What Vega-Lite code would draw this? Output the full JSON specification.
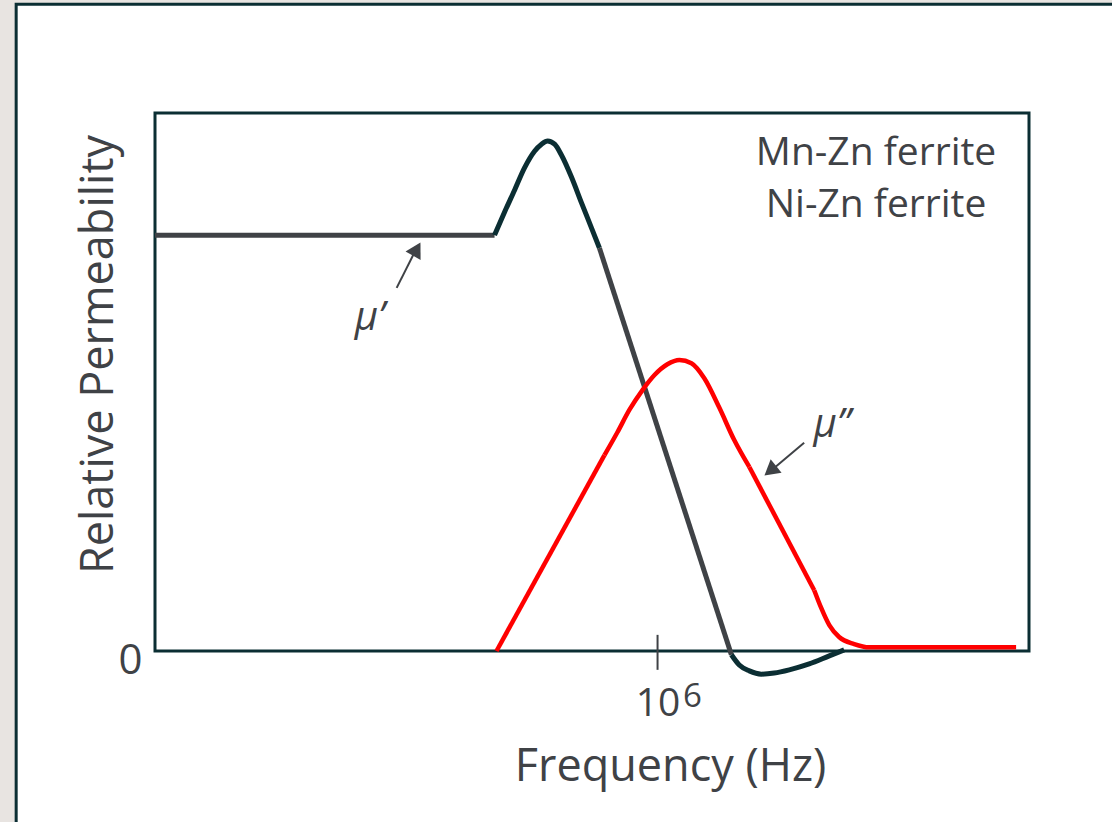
{
  "$schema": "https://vega.github.io/schema/vega-lite/v6.json",
  "width": 874,
  "height": 538,
  "autosize": {"type": "none"},
  "padding": {"left": 155, "top": 113, "right": 83, "bottom": 171},
  "background": "#e8e4e1",
  "config": {
    "view": {"stroke": null},
    "font": "Open Sans",
    "text": {"font": "Open Sans"}
  },
  "encoding": {
    "x": {
      "field": "x",
      "type": "quantitative",
      "scale": {"domain": [3.7, 7.7], "nice": false, "zero": false},
      "axis": {
        "values": [6],
        "labelExpr": "'10'",
        "domain": false,
        "ticks": false,
        "tickSize": 0,
        "grid": false,
        "labelFont": "Open Sans",
        "labelFontSize": 39,
        "labelColor": "#3f4246",
        "labelBaseline": "alphabetic",
        "labelPadding": 64,
        "labelFlush": false,
        "labelOverlap": false,
        "title": "Frequency (Hz)",
        "titleFont": "Open Sans",
        "titleFontSize": 45,
        "titleFontWeight": "normal",
        "titleColor": "#3f4246",
        "titleX": 515,
        "titleY": 129,
        "titleBaseline": "alphabetic",
        "titleAlign": "center",
        "zindex": 1
      }
    },
    "y": {
      "field": "y",
      "type": "quantitative",
      "scale": {"domain": [0, 100], "nice": false, "zero": false},
      "axis": {
        "values": [0],
        "domain": false,
        "ticks": false,
        "tickSize": 0,
        "grid": false,
        "labelFont": "Open Sans",
        "labelFontSize": 42,
        "labelColor": "#3f4246",
        "labelPadding": 13,
        "labelBaseline": "middle",
        "labelOffset": 9,
        "title": "Relative Permeability",
        "titleFont": "Open Sans",
        "titleFontSize": 45,
        "titleFontWeight": "normal",
        "titleColor": "#3f4246",
        "titleAngle": 270,
        "titleX": -43,
        "titleY": 241,
        "titleBaseline": "alphabetic",
        "titleAlign": "center",
        "zindex": 1
      }
    }
  },
  "layer": [
    {
      "data": {"values": [{"x": 3.0646, "x2": 8.3, "y": 120.2, "y2": -40}]},
      "mark": {"type": "rect", "fill": "#ffffff", "stroke": "#0b2e33", "strokeWidth": 3},
      "encoding": {"x2": {"field": "x2"}, "y2": {"field": "y2"}}
    },
    {
      "data": {"values": [{"x": 3.7, "x2": 7.7, "y": 0, "y2": 100}]},
      "mark": {"type": "rect", "fill": null, "fillOpacity": 0, "stroke": "#0b2e33", "strokeWidth": 3},
      "encoding": {"x2": {"field": "x2"}, "y2": {"field": "y2"}}
    },
    {
      "data": {"values": [{"x": 6, "y": -3.5, "y2": 3.0}]},
      "mark": {"type": "rule", "color": "#3f4246", "strokeWidth": 2},
      "encoding": {"y2": {"field": "y2"}}
    },
    {
      "data": {"values": [
        {"series": "mu1", "seg": "flat", "tone": "gray", "x": 3.7, "y": 77.3},
        {"series": "mu1", "seg": "flat", "tone": "gray", "x": 5.254, "y": 77.3},
        {"series": "mu1", "seg": "bump", "tone": "teal", "x": 5.254, "y": 77.3},
        {"series": "mu1", "seg": "bump", "tone": "teal", "x": 5.300, "y": 81.6},
        {"series": "mu1", "seg": "bump", "tone": "teal", "x": 5.346, "y": 85.7},
        {"series": "mu1", "seg": "bump", "tone": "teal", "x": 5.391, "y": 89.8},
        {"series": "mu1", "seg": "bump", "tone": "teal", "x": 5.437, "y": 92.9},
        {"series": "mu1", "seg": "bump", "tone": "teal", "x": 5.469, "y": 94.2},
        {"series": "mu1", "seg": "bump", "tone": "teal", "x": 5.497, "y": 94.8},
        {"series": "mu1", "seg": "bump", "tone": "teal", "x": 5.529, "y": 94.2},
        {"series": "mu1", "seg": "bump", "tone": "teal", "x": 5.560, "y": 92.2},
        {"series": "mu1", "seg": "bump", "tone": "teal", "x": 5.606, "y": 88.1},
        {"series": "mu1", "seg": "bump", "tone": "teal", "x": 5.652, "y": 83.3},
        {"series": "mu1", "seg": "bump", "tone": "teal", "x": 5.698, "y": 78.6},
        {"series": "mu1", "seg": "bump", "tone": "teal", "x": 5.734, "y": 74.9},
        {"series": "mu1", "seg": "steep", "tone": "gray", "x": 5.734, "y": 74.9},
        {"series": "mu1", "seg": "steep", "tone": "gray", "x": 6.338, "y": -0.7},
        {"series": "mu1", "seg": "dip", "tone": "teal", "x": 6.338, "y": -0.7},
        {"series": "mu1", "seg": "dip", "tone": "teal", "x": 6.374, "y": -2.6},
        {"series": "mu1", "seg": "dip", "tone": "teal", "x": 6.420, "y": -3.7},
        {"series": "mu1", "seg": "dip", "tone": "teal", "x": 6.475, "y": -4.3},
        {"series": "mu1", "seg": "dip", "tone": "teal", "x": 6.534, "y": -4.1},
        {"series": "mu1", "seg": "dip", "tone": "teal", "x": 6.603, "y": -3.5},
        {"series": "mu1", "seg": "dip", "tone": "teal", "x": 6.694, "y": -2.4},
        {"series": "mu1", "seg": "dip", "tone": "teal", "x": 6.786, "y": -0.9},
        {"series": "mu1", "seg": "dip", "tone": "teal", "x": 6.854, "y": 0.2}
      ]},
      "mark": {"type": "line", "strokeWidth": 5, "interpolate": "monotone"},
      "encoding": {
        "color": {"field": "tone", "type": "nominal", "scale": {"domain": ["gray", "teal", "red"], "range": ["#3f4246", "#0b2e33", "#ff0000"]}, "legend": null},
        "detail": {"field": "seg", "type": "nominal"}
      }
    },
    {
      "data": {"values": [
        {"series": "mu2", "seg": "rise", "tone": "red", "x": 5.263, "y": 0},
        {"series": "mu2", "seg": "rise", "tone": "red", "x": 5.757, "y": 36.4},
        {"series": "mu2", "seg": "peak", "tone": "red", "x": 5.757, "y": 36.4},
        {"series": "mu2", "seg": "peak", "tone": "red", "x": 5.817, "y": 40.7},
        {"series": "mu2", "seg": "peak", "tone": "red", "x": 5.871, "y": 44.8},
        {"series": "mu2", "seg": "peak", "tone": "red", "x": 5.931, "y": 48.5},
        {"series": "mu2", "seg": "peak", "tone": "red", "x": 5.986, "y": 51.3},
        {"series": "mu2", "seg": "peak", "tone": "red", "x": 6.045, "y": 53.3},
        {"series": "mu2", "seg": "peak", "tone": "red", "x": 6.100, "y": 54.1},
        {"series": "mu2", "seg": "peak", "tone": "red", "x": 6.155, "y": 53.5},
        {"series": "mu2", "seg": "peak", "tone": "red", "x": 6.214, "y": 50.7},
        {"series": "mu2", "seg": "peak", "tone": "red", "x": 6.283, "y": 45.2},
        {"series": "mu2", "seg": "peak", "tone": "red", "x": 6.351, "y": 39.2},
        {"series": "mu2", "seg": "peak", "tone": "red", "x": 6.420, "y": 34.2},
        {"series": "mu2", "seg": "fall", "tone": "red", "x": 6.420, "y": 34.2},
        {"series": "mu2", "seg": "fall", "tone": "red", "x": 6.717, "y": 11.3},
        {"series": "mu2", "seg": "tail", "tone": "red", "x": 6.717, "y": 11.3},
        {"series": "mu2", "seg": "tail", "tone": "red", "x": 6.749, "y": 8.0},
        {"series": "mu2", "seg": "tail", "tone": "red", "x": 6.786, "y": 4.8},
        {"series": "mu2", "seg": "tail", "tone": "red", "x": 6.831, "y": 2.6},
        {"series": "mu2", "seg": "tail", "tone": "red", "x": 6.900, "y": 1.3},
        {"series": "mu2", "seg": "tail", "tone": "red", "x": 6.969, "y": 0.7},
        {"series": "mu2", "seg": "tail", "tone": "red", "x": 7.641, "y": 0.7}
      ]},
      "mark": {"type": "line", "strokeWidth": 4.5, "interpolate": "monotone"},
      "encoding": {
        "color": {"field": "tone", "type": "nominal", "scale": {"domain": ["gray", "teal", "red"], "range": ["#3f4246", "#0b2e33", "#ff0000"]}, "legend": null},
        "detail": {"field": "seg", "type": "nominal"}
      }
    },
    {
      "data": {"values": [
        {"name": "mu1", "x": 4.806, "y": 67.5, "x2": 4.884, "y2": 73.8},
        {"name": "mu2", "x": 6.671, "y": 38.7, "x2": 6.539, "y2": 34.2}
      ]},
      "mark": {"type": "rule", "color": "#3f4246", "strokeWidth": 2},
      "encoding": {"x2": {"field": "x2"}, "y2": {"field": "y2"}}
    },
    {
      "data": {"values": [
        {"name": "mu1", "x": 4.898, "y": 74.7},
        {"name": "mu2", "x": 6.516, "y": 33.5}
      ]},
      "mark": {"type": "point", "shape": "triangle-up", "filled": true, "color": "#3f4246", "size": 300, "opacity": 1},
      "encoding": {
        "angle": {"field": "name", "type": "nominal", "scale": {"domain": ["mu1", "mu2"], "range": [29.5, 231]}, "legend": null}
      }
    },
    {
      "data": {"values": [
        {"label": "μ’", "x": 4.683, "y": 59.7},
        {"label": "μ”", "x": 6.799, "y": 39.8}
      ]},
      "mark": {"type": "text", "font": "Open Sans", "fontSize": 40, "fontStyle": "italic", "color": "#3f4246", "align": "center", "baseline": "alphabetic"},
      "encoding": {"text": {"field": "label"}}
    },
    {
      "data": {"values": [
        {"label": "Mn-Zn ferrite", "x": 7.0, "y": 90.33},
        {"label": "Ni-Zn ferrite", "x": 7.0, "y": 80.67}
      ]},
      "mark": {"type": "text", "font": "Open Sans", "fontSize": 39, "color": "#3f4246", "align": "center", "baseline": "alphabetic"},
      "encoding": {"text": {"field": "label"}}
    },
    {
      "data": {"values": [{"label": "6", "x": 6.16, "y": -10.41}]},
      "mark": {"type": "text", "font": "Open Sans", "fontSize": 33, "color": "#3f4246", "align": "center", "baseline": "alphabetic"},
      "encoding": {"text": {"field": "label"}}
    }
  ]
}
